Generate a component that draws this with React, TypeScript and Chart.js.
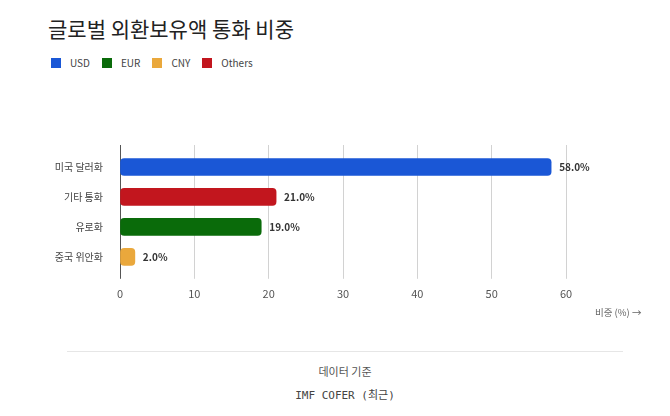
import { useEffect, useRef } from "react";
import { Chart, registerables } from "chart.js";

Chart.register(...registerables);

const categories = ["미국 달러화", "기타 통화", "유로화", "중국 위안화"];
const shares = [58.0, 21.0, 19.0, 2.0];
const barColors = ["#1a57d6", "#c2161e", "#0a6b0a", "#eaa83c"];
const legendLabels = ["USD", "EUR", "CNY", "Others"];
const legendColors = ["#1a57d6", "#0a6b0a", "#eaa83c", "#c2161e"];
const axisMin = 0;
const axisMax = 60;
const axisStep = 10;

const FONT = "'Noto Sans CJK KR', 'Noto Sans', sans-serif";

const gridColor = (ctx: any) => (ctx.tick && ctx.tick.value === 0 ? "#555" : "#d2d2d2");

// draws "58.0%" etc. just past the end of each bar
const valueLabels = {
    id: "valueLabels",
    afterDatasetsDraw(chart: any) {
        const { ctx } = chart;
        const meta = chart.getDatasetMeta(0);
        ctx.save();
        ctx.font = `bold 10px ${FONT}`;
        ctx.fillStyle = "#333";
        ctx.textBaseline = "middle";
        ctx.textAlign = "left";
        meta.data.forEach((bar: any, i: number) => {
            ctx.fillText(shares[i].toFixed(1) + "%", bar.x + 8, bar.y);
        });
        ctx.restore();
    },
};

function ShareChart() {
    const canvasRef = useRef<HTMLCanvasElement>(null);
    const chartRef = useRef<Chart | null>(null);

    useEffect(() => {
        if (canvasRef.current) {
            chartRef.current = new Chart(canvasRef.current, {
                type: "bar",
                data: {
                    labels: categories,
                    datasets: [
                        {
                            label: "비중",
                            data: shares,
                            backgroundColor: barColors,
                            barThickness: 17,
                            borderRadius: 4,
                            borderSkipped: false,
                        },
                    ],
                },
                options: {
                    indexAxis: "y",
                    responsive: true,
                    maintainAspectRatio: false,
                    animation: false,
                    layout: { padding: { top: 4, right: 104, bottom: 1, left: 0 } },
                    plugins: {
                        legend: { display: false },
                        tooltip: { enabled: false },
                    },
                    scales: {
                        x: {
                            type: "linear",
                            position: "bottom",
                            min: axisMin,
                            max: axisMax,
                            ticks: { stepSize: axisStep, padding: 8, color: "#555", font: { size: 11, family: FONT } },
                            grid: { color: gridColor, tickLength: 7 },
                            border: { display: false },
                        },
                        x2: {
                            type: "linear",
                            position: "top",
                            min: axisMin,
                            max: axisMax,
                            ticks: { stepSize: axisStep, display: false },
                            grid: { color: gridColor, tickLength: 7, drawOnChartArea: false },
                            border: { display: false },
                        },
                        y: {
                            ticks: { padding: 9, color: "#444", font: { size: 10, family: FONT } },
                            grid: { display: false },
                            border: { display: false },
                            afterFit: (scale: any) => {
                                scale.width = 120;
                            },
                        },
                    },
                },
                plugins: [valueLabels],
            } as any);
        }
        return () => {
            if (chartRef.current) {
                chartRef.current.destroy();
                chartRef.current = null;
            }
        };
    }, []);

    return (
        <div style={{ position: "absolute", left: 0, top: 137, width: 670, height: 172 }}>
            <canvas ref={canvasRef} />
        </div>
    );
}

export default function App() {
    return (
        <div
            style={{
                position: "absolute",
                left: 0,
                top: 0,
                width: 670,
                height: 416,
                background: "#fff",
                fontFamily: FONT,
                overflow: "hidden",
            }}
        >
            <div style={{ position: "absolute", left: 48, top: 15, fontSize: 21, lineHeight: "26px", color: "#222" }}>
                글로벌 외환보유액 통화 비중
            </div>
            <div style={{ position: "absolute", left: 51, top: 56, display: "flex", alignItems: "center", fontSize: 10, lineHeight: "14px", color: "#444" }}>
                {legendLabels.map((l, i) => (
                    <div key={l} style={{ display: "flex", alignItems: "center", marginRight: 12 }}>
                        <span style={{ width: 10, height: 10, background: legendColors[i], marginRight: 9, display: "inline-block" }} />
                        <span>{l}</span>
                    </div>
                ))}
            </div>
            <ShareChart />
            <div style={{ position: "absolute", left: 595, top: 305, fontSize: 9.5, lineHeight: "14px", color: "#666" }}>
                비중 (%) →
            </div>
            <div style={{ position: "absolute", left: 67, top: 351, width: 556, borderTop: "1px solid #e6e6e6" }} />
            <div style={{ position: "absolute", left: 67, top: 363, width: 556, textAlign: "center", fontSize: 11, lineHeight: "16px", color: "#555" }}>
                데이터 기준
            </div>
            <div
                style={{
                    position: "absolute",
                    left: 67,
                    top: 388,
                    width: 556,
                    textAlign: "center",
                    fontSize: 11,
                    lineHeight: "16px",
                    color: "#444",
                    fontFamily: "'DejaVu Sans Mono', 'Noto Sans CJK KR', monospace",
                }}
            >
                IMF COFER (최근)
            </div>
        </div>
    );
}
